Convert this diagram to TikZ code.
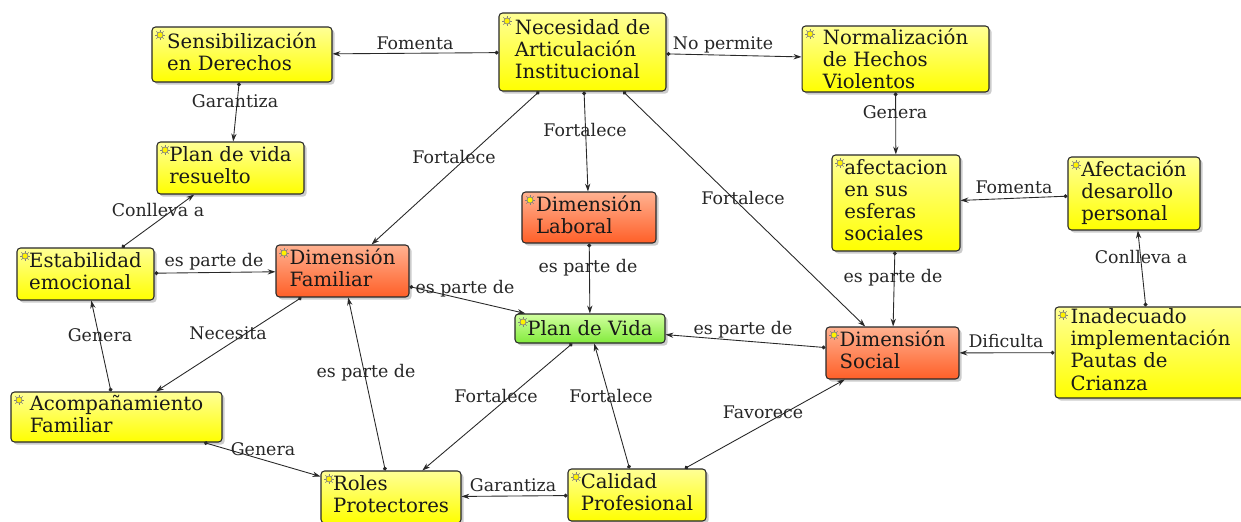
\documentclass[tikz,border=0pt]{standalone}
\usepackage{fontspec}
\setmainfont{DejaVu Serif}
\usetikzlibrary{shadows,arrows.meta}
\definecolor{ylwtop}{RGB}{255,255,150}
\definecolor{ylwbot}{RGB}{255,255,0}
\definecolor{orgtop}{RGB}{255,178,145}
\definecolor{orgbot}{RGB}{255,95,40}
\definecolor{grntop}{RGB}{210,255,160}
\definecolor{grnbot}{RGB}{130,235,60}
\definecolor{edgegray}{RGB}{40,40,40}
\begin{document}
\begin{tikzpicture}[x=0.02cm,y=-0.02cm,
  concept/.style={draw=edgegray,line width=0.6pt,rounded corners=2pt,align=left,inner sep=1pt,
    font=\fontsize{11.2}{12.6}\selectfont,text=black!90,
    drop shadow={shadow xshift=1.5pt,shadow yshift=-1.5pt,opacity=0.4},
    path picture={\path (path picture bounding box.north west) ++(8,8) coordinate (ic);
      \foreach \a in {0,45,...,315} \draw [gray,line width=0.35pt] (ic) ++(\a:3)--++(\a:2.2);
      \filldraw [fill=yellow,draw=gray,line width=0.35pt] (ic) circle (3);}},
  lift/.style={text depth=3.5pt},
  ylw/.style={concept,lift,top color=ylwtop,bottom color=ylwbot},
  org/.style={concept,lift,top color=orgtop,bottom color=orgbot},
  grn/.style={concept,top color=grntop,bottom color=grnbot},
  lbl/.style={font=\fontsize{9.9}{11}\selectfont,text=black!85,inner sep=0pt},
  link/.style={{Circle[length=2.2pt]}-{Stealth[length=4.5pt,width=3pt]},draw=edgegray,line width=0.5pt}]
\useasboundingbox (0,0) rectangle (1241,521);
% concepts
\node [ylw,minimum width=3.6cm,minimum height=1.1cm] (sens) at (242,54.5) {Sensibilización\\en Derechos};
\node [ylw,minimum width=3.34cm,minimum height=1.56cm] (nec) at (582.5,52) {Necesidad de\\Articulación\\Institucional};
\node [concept,top color=ylwtop,bottom color=ylwbot,minimum width=3.74cm,minimum height=1.32cm] (norm) at (895.5,59) {Normalización\\de Hechos\\Violentos};
\node [ylw,minimum width=2.94cm,minimum height=1.04cm] (pvr) at (230.5,168) {Plan de vida\\resuelto};
\node [ylw,minimum width=2.56cm,minimum height=1.92cm] (afes) at (896,203) {afectacion\\en sus\\esferas\\sociales};
\node [ylw,minimum width=2.64cm,minimum height=1.46cm] (afdp) at (1134,193.5) {Afectación\\desarollo\\personal};
\node [org,minimum width=2.68cm,minimum height=1.02cm] (dlab) at (589,217.5) {Dimensión\\Laboral};
\node [ylw,minimum width=2.74cm,minimum height=1.04cm] (estab) at (85.5,274) {Estabilidad\\emocional};
\node [org,minimum width=2.66cm,minimum height=1.04cm] (dfam) at (342.5,271) {Dimensión\\Familiar};
\node [grn,minimum width=3cm,minimum height=0.58cm] (pvida) at (590,328.5) {Plan de Vida};
\node [org,minimum width=2.66cm,minimum height=1.04cm] (dsoc) at (892.5,353) {Dimensión\\Social};
\node [ylw,minimum width=3.82cm,minimum height=1.82cm] (inad) at (1150.5,352.5) {Inadecuado\\implementación\\Pautas de\\Crianza};
\node [ylw,minimum width=4.22cm,minimum height=1cm] (acomp) at (116.5,417) {Acompañamiento\\Familiar};
\node [ylw,minimum width=2.8cm,minimum height=1.04cm] (roles) at (391,497) {Roles\\Protectores};
\node [ylw,minimum width=2.76cm,minimum height=1.04cm] (calid) at (637,495) {Calidad\\Profesional};
% links
\draw [link] (nec)--(sens);
\draw [link] (nec)--(norm);
\draw [link] (sens)--(pvr);
\draw [link] (estab)--(pvr);
\draw [link] (nec)--(dfam);
\draw [link] (nec)--(dlab);
\draw [link] (nec)--(dsoc);
\draw [link] (norm)--(afes);
\draw [link] (afdp)--(afes);
\draw [link] (inad)--(afdp);
\draw [link] (afes)--(dsoc);
\draw [link] (inad)--(dsoc);
\draw [link] (dsoc)--(pvida);
\draw [link] (dlab)--(pvida);
\draw [link] (dfam)--(pvida);
\draw [link] (estab)--(dfam);
\draw [link] (acomp)--(estab);
\draw [link] (dfam)--(acomp);
\draw [link] (roles)--(dfam);
\draw [link] (acomp)--(roles);
\draw [link] (pvida)--(roles);
\draw [link] (calid)--(pvida);
\draw [link] (calid)--(roles);
\draw [link] (calid)--(dsoc);
% link labels
\node [lbl] (fomenta1) at (415,43) {Fomenta};
\node [lbl] (nopermite) at (723,45) {No permite};
\node [lbl] (garantiza1) at (235,101) {Garantiza};
\node [lbl] (conlleva1) at (158,210) {Conlleva a};
\node [lbl] (fortalece1) at (454,157) {Fortalece};
\node [lbl] (fortalece2) at (585,130) {Fortalece};
\node [lbl] (fortalece3) at (743,198) {Fortalece};
\node [lbl] (genera1) at (895,112) {Genera};
\node [lbl] (fomenta2) at (1014,187) {Fomenta};
\node [lbl] (conlleva2) at (1141,257) {Conlleva a};
\node [lbl] (parte1) at (893,278) {es parte de};
\node [lbl] (dificulta) at (1006,341) {Dificulta};
\node [lbl] (parte2) at (743,330) {es parte de};
\node [lbl] (parte3) at (588,268) {es parte de};
\node [lbl] (parte4) at (465,289) {es parte de};
\node [lbl] (parte5) at (214,262) {es parte de};
\node [lbl] (genera2) at (100,335) {Genera};
\node [lbl] (necesita) at (228,333) {Necesita};
\node [lbl] (parte6) at (366,373) {es parte de};
\node [lbl] (genera3) at (263,449) {Genera};
\node [lbl] (fortalece4) at (496,396) {Fortalece};
\node [lbl] (fortalece5) at (611,396) {Fortalece};
\node [lbl] (garantiza2) at (513,485) {Garantiza};
\node [lbl] (favorece) at (763,412) {Favorece};
\end{tikzpicture}
\end{document}
